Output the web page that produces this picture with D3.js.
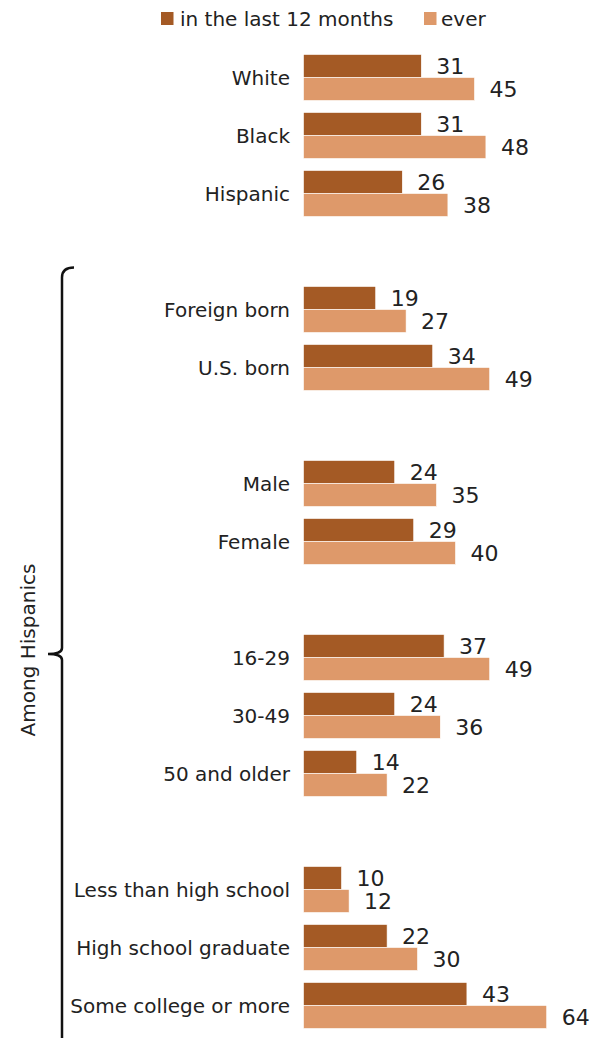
<!DOCTYPE html>
<html>
<head>
<meta charset="utf-8">
<script src="https://cdn.jsdelivr.net/npm/d3@7"></script>
<style>
  html, body { margin: 0; padding: 0; background: #fff; }
  svg { display: block; font-family: "DejaVu Sans", sans-serif; }
</style>
</head>
<body>
<svg id="chart" width="597" height="1038"></svg>
<script>
// Share who did it, by group (%)
const categories = [
  "White", "Black", "Hispanic",
  "Foreign born", "U.S. born",
  "Male", "Female",
  "16-29", "30-49", "50 and older",
  "Less than high school", "High school graduate", "Some college or more"
];
// group index of each category; a blank row separates groups
const groups = [0, 0, 0, 1, 1, 2, 2, 3, 3, 3, 4, 4, 4];
const last12Months = [31, 31, 26, 19, 34, 24, 29, 37, 24, 14, 10, 22, 43];
const ever = [45, 48, 38, 27, 49, 35, 40, 49, 36, 22, 12, 30, 64];
const seriesNames = ["in the last 12 months", "ever"];
const bracketLabel = "Among Hispanics";

const colors = ["#a45a25", "#de996a"];

const svg = d3.select("#chart");

const rows = categories.map((c, i) => ({
  name: c,
  slot: i + groups[i],
  values: [last12Months[i], ever[i]]
}));
const nSlots = d3.max(rows, d => d.slot) + 1;

const y = d3.scaleBand()
  .domain(d3.range(nSlots))
  .range([54.5, 1028.5])
  .paddingInner(12 / 58)
  .paddingOuter(0);

const sub = d3.scaleBand()
  .domain([0, 1])
  .range([0, y.bandwidth()]);

const x = d3.scaleLinear()
  .domain([0, d3.max(ever)])
  .range([303.5, 546.7]);

// Legend
const legend = svg.append("g");
const legendItems = [{x: 161, tx: 180}, {x: 424, tx: 441}];
seriesNames.forEach((s, k) => {
  legend.append("rect")
    .attr("x", legendItems[k].x).attr("y", 12)
    .attr("width", 12.5).attr("height", 13)
    .attr("fill", colors[k]);
  legend.append("text")
    .attr("x", legendItems[k].tx).attr("y", 26)
    .attr("font-size", 20).attr("fill", "#222")
    .text(s);
});

// Bars
const row = svg.selectAll("g.row")
  .data(rows)
  .join("g")
  .attr("class", "row")
  .attr("transform", d => `translate(0,${y(d.slot)})`);

row.selectAll("rect")
  .data(d => d.values)
  .join("rect")
  .attr("x", x(0))
  .attr("y", (v, k) => sub(k))
  .attr("width", v => x(v) - x(0))
  .attr("height", sub.bandwidth())
  .attr("fill", (v, k) => colors[k])
  .attr("stroke", "#fff")
  .attr("stroke-width", 0.6);

row.selectAll("text.val")
  .data(d => d.values)
  .join("text")
  .attr("class", "val")
  .attr("x", v => x(v) + 15)
  .attr("y", (v, k) => sub(k) + sub.bandwidth() / 2)
  .attr("dy", "0.36em")
  .attr("font-size", 22)
  .attr("fill", "#222")
  .text(v => v);

row.append("text")
  .attr("x", 290)
  .attr("y", y.bandwidth() / 2)
  .attr("dy", "0.36em")
  .attr("text-anchor", "end")
  .attr("font-size", 20)
  .attr("fill", "#222")
  .text(d => d.name);

// Bracket over the Hispanic subgroups
const bracketTop = y(rows[3].slot) - 19;
const bracketMid = 654;
const bx = 62;
svg.append("path")
  .attr("d", `M${bx + 12},${bracketTop} Q${bx},${bracketTop} ${bx},${bracketTop + 10} V${bracketMid - 6} Q${bx},${bracketMid} ${bx - 14},${bracketMid} Q${bx},${bracketMid} ${bx},${bracketMid + 6} V1050`)
  .attr("fill", "none")
  .attr("stroke", "#111")
  .attr("stroke-width", 2.5);

svg.append("text")
  .attr("transform", `translate(35,${bracketMid - 4}) rotate(-90)`)
  .attr("text-anchor", "middle")
  .attr("font-size", 20)
  .attr("fill", "#222")
  .text(bracketLabel);
</script>
</body>
</html>
